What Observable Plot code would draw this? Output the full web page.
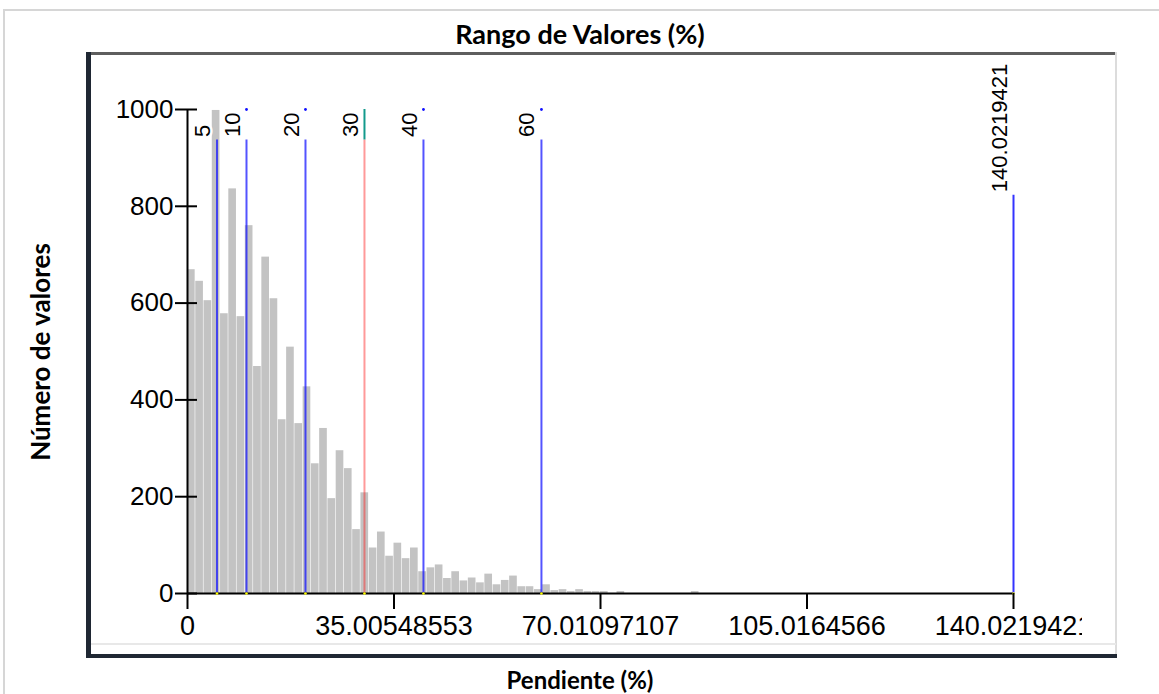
<!DOCTYPE html>
<html><head><meta charset="utf-8">
<script src="https://cdn.jsdelivr.net/npm/d3@7"></script>
<script src="https://cdn.jsdelivr.net/npm/@observablehq/plot@0.6"></script>
<style>
body{margin:0;background:#fff;}
#wrap{position:relative;width:1159px;height:694px;overflow:hidden;background:#fff;}
#chart svg{position:absolute;left:0;top:0;}
.t{position:absolute;font-family:Lato,"Open Sans",sans-serif;font-weight:700;color:#000;white-space:nowrap;}
.ln{position:absolute;}
</style></head><body>
<div id="wrap">
  <div class="ln" style="left:3px;top:9px;width:1156px;height:2px;background:#d6d6d6"></div>
  <div class="ln" style="left:3px;top:9px;width:2px;height:685px;background:#d6d6d6"></div>
  <div class="t" id="title" style="left:580px;top:33px;transform:translate(-50%,-50%);font-size:27px;">Rango de Valores (%)</div>
  <div class="ln" style="left:91px;top:52px;width:1025px;height:3px;background:#5e5e5e"></div>
  <div class="ln" style="left:1115px;top:52px;width:2px;height:603px;background:#dcdcdc"></div>
  <div class="ln" style="left:91px;top:643px;width:1025px;height:2px;background:#e8e8e8"></div>
  <div id="chart"></div>
  <div class="ln" style="left:1082px;top:603px;width:32px;height:38px;background:#fff"></div>
  <div class="ln" style="left:86px;top:52px;width:5px;height:606px;background:#1f2733"></div>
  <div class="ln" style="left:86px;top:654px;width:1031px;height:4px;background:#1f2733"></div>
  <div class="t" id="ytitle" style="left:40px;top:352px;transform:translate(-50%,-50%) rotate(-90deg);font-size:26px;">Número de valores</div>
  <div class="t" id="xtitle" style="left:580px;top:679px;transform:translate(-50%,-50%);font-size:24px;">Pendiente (%)</div>
</div>
<script>
// Histogram: counts per bin (bin width = 140.0219421 / 100)
const binWidth = 1.400219421;
const counts = [
  669, 645, 605, 998, 578, 836, 572, 760, 469, 695,
  609, 359, 509, 351, 427, 268, 341, 196, 295, 258,
  132, 208, 94, 127, 77, 104, 72, 94, 45, 53,
  59, 31, 45, 26, 32, 22, 40, 18, 27, 36,
  14, 14, 8, 18, 6, 8, 4, 8, 4, 4,
  4, 0, 4, 0, 0, 0, 0, 0, 0, 0,
  0, 4
];
// Class breaks
const breakValues = [5, 10, 20, 30, 40, 60, 140.0219421];
const breakLabels = ["5", "10", "20", "30", "40", "60", "140.0219421"];
const breakTops = [937, 937, 937, 937, 937, 937, 823];
const breakColors = ["#1010ff", "#1010ff", "#1010ff", "#ff2020", "#1010ff", "#1010ff", "#1010ff"];
const breakOpacity = [0.72, 0.72, 0.72, 0.45, 0.72, 0.72, 0.85];
const topDots = [10, 20, 40, 60];
const tealBreak = [30];
// Axes
const xTicks = [0, 35.00548553, 70.01097107, 105.0164566, 140.0219421];
const xTickLabels = ["0", "35.00548553", "70.01097107", "105.0164566", "140.0219421"];
const yTicks = [0, 200, 400, 600, 800, 1000];

const bins = counts.map((c, i) => ({x1: i * binWidth, x2: (i + 1) * binWidth, y: c})).filter(d => d.y > 0);
const brk = breakValues.map((v, i) => ({v, label: breakLabels[i], top: breakTops[i], color: breakColors[i], op: breakOpacity[i]}));
const xLab = new Map(xTicks.map((t, i) => [t, xTickLabels[i]]));

const plot = Plot.plot({
  width: 1159, height: 694,
  marginLeft: 187, marginRight: 146, marginTop: 109, marginBottom: 101,
  x: {domain: [0, 140.0219421]},
  y: {domain: [0, 1000]},
  style: {fontFamily: "'Liberation Sans', Arial, sans-serif", background: "transparent", color: "#000"},
  marks: [
    Plot.rectY(bins, {x1: "x1", x2: "x2", y: "y", fill: "#c3c3c3", insetRight: 0.6}),
    Plot.ruleX(brk, {x: "v", y1: 0, y2: "top", stroke: "color", strokeOpacity: "op", strokeWidth: 2}),
    Plot.ruleX(tealBreak, {x: d => d, y1: 937, y2: 1000, stroke: "#139a8c", strokeWidth: 2}),
    Plot.dot(topDots, {x: d => d, y: 1000, r: 1.4, fill: "#1010ff"}),
    Plot.ruleY([0], {stroke: "#000", strokeWidth: 2}),
    Plot.ruleX([0], {y1: 0, y2: 1000, stroke: "#000", strokeWidth: 2}),
    Plot.dot(breakValues, {x: d => d, y: 0, r: 1.3, fill: "#ffff00"}),
    Plot.axisX({ticks: xTicks, tickFormat: d => xLab.get(d), tickSize: 16, tickPadding: 6, fontSize: 27, strokeWidth: 2, label: null}),
    Plot.axisY({ticks: yTicks, tickFormat: d3.format("d"), tickSize: 22, dx: 10, tickPadding: 2, fontSize: 26, strokeWidth: 2, label: null}),
    Plot.text(brk, {x: "v", y: "top", text: "label", rotate: -90, textAnchor: "start", lineAnchor: "middle", dx: -14, dy: -3, fontSize: 22, fill: "#000", stroke: "#fff", strokeWidth: 5})
  ]
});
document.getElementById("chart").appendChild(plot);
</script>
</body></html>
